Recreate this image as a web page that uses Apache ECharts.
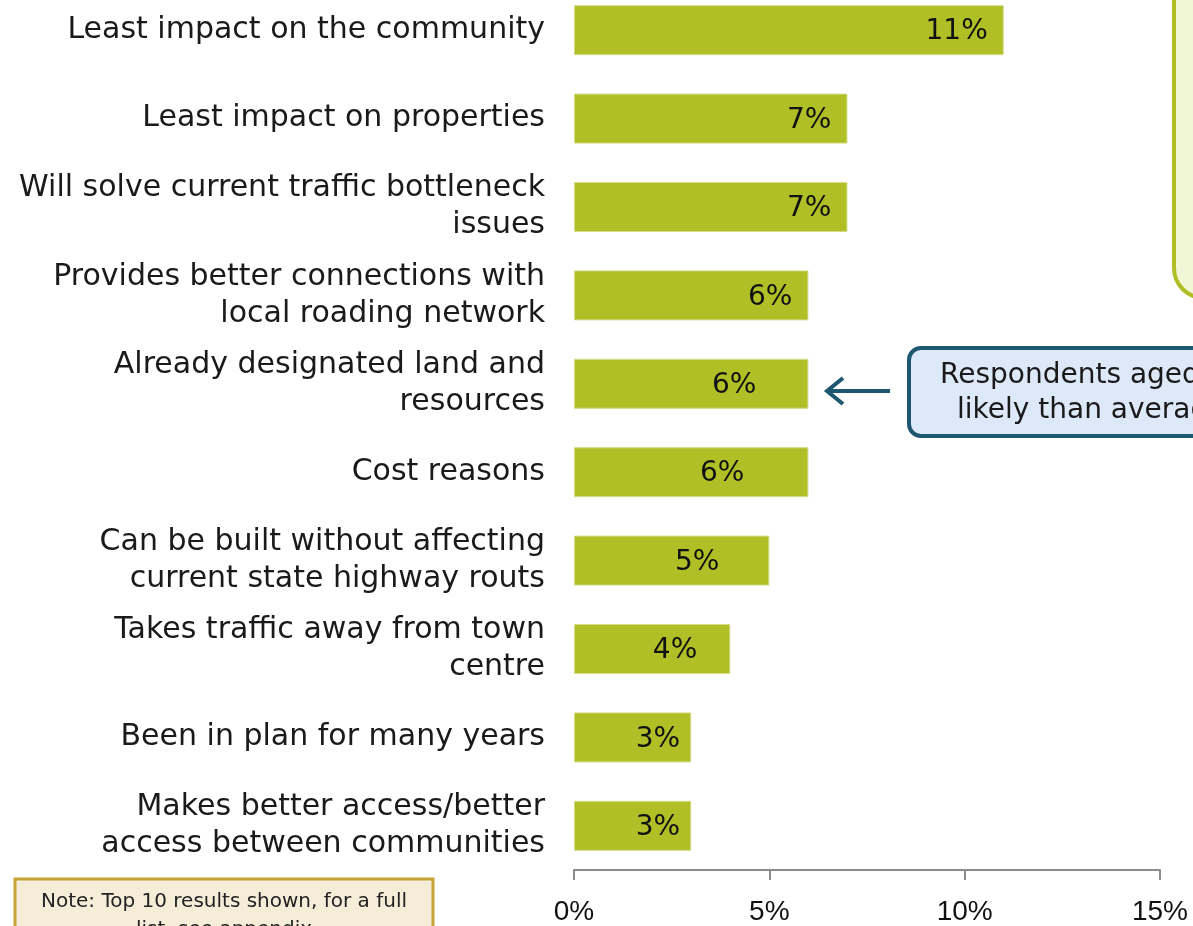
<!DOCTYPE html>
<html>
<head>
<meta charset="utf-8">
<script src="https://cdn.jsdelivr.net/npm/echarts@6/dist/echarts.min.js"></script>
<style>
  html, body { margin: 0; padding: 0; background: #fff; overflow: hidden; }
  /* first band starts above the page edge in the original, so the chart is shifted up */
  #chart { position: absolute; left: 0; top: -14px; width: 1193px; height: 940px; }
</style>
</head>
<body>
<div id="chart"></div>
<script>
  // reasons, top to bottom
  var categories = [
    'Least impact on the community',
    'Least impact on properties',
    'Will solve current traffic bottleneck\nissues',
    'Provides better connections with\nlocal roading network',
    'Already designated land and\nresources',
    'Cost reasons',
    'Can be built without affecting\ncurrent state highway routs',
    'Takes traffic away from town\ncentre',
    'Been in plan for many years',
    'Makes better access/better\naccess between communities'
  ]
  var percents = [11, 7, 7, 6, 6, 6, 5, 4, 3, 3]
  var axisTicks = [0, 5, 10, 15]

  // labels in the original were nudged by hand
  var labelNudge = [0, 0, 0, 0, -36, -48, -34, -17, 5, 5]

  var font = 'DejaVu Sans'
  var dy = 14 // page y -> chart y
  var chart = echarts.init(document.getElementById('chart'))

  chart.setOption({
    animation: false,
    grid: { left: 574, right: 33, top: 0, bottom: 56 },
    xAxis: {
      type: 'value',
      min: axisTicks[0],
      max: axisTicks[axisTicks.length - 1],
      interval: axisTicks[1] - axisTicks[0],
      splitLine: { show: false },
      axisLine: { show: true, lineStyle: { color: '#8c8c8c', width: 2 } },
      axisTick: { show: true, length: 10, lineStyle: { color: '#8c8c8c', width: 2 } },
      axisLabel: {
        formatter: '{value}%', color: '#111', fontSize: 28,
        fontFamily: 'Liberation Sans', margin: 28
      }
    },
    yAxis: {
      type: 'category',
      inverse: true,
      data: categories,
      axisLine: { show: false },
      axisTick: { show: false },
      axisLabel: {
        color: '#1a1a1a', fontSize: 30, fontFamily: font,
        margin: 29, lineHeight: 37, align: 'right'
      }
    },
    series: [{
      type: 'bar',
      barWidth: 50,
      data: percents.map(function (v, i) {
        return { value: v, label: { offset: [labelNudge[i], 2] } }
      }),
      itemStyle: { color: '#b1bf27', borderColor: '#d4dc8a', borderWidth: 1 },
      label: {
        show: true, position: 'insideRight', distance: 16,
        formatter: '{c}%', color: '#111', fontSize: 28, fontFamily: font
      }
    }],
    graphic: [
      // green callout top right (cut off)
      { type: 'rect', shape: { x: 1174, y: -40 + dy, width: 120, height: 338, r: 30 },
        style: { fill: '#f1f6d4', stroke: '#b1bf27', lineWidth: 4 } },
      // blue callout
      { type: 'rect', shape: { x: 909, y: 348 + dy, width: 320, height: 88, r: 12 },
        style: { fill: '#dde8f8', stroke: '#1d5870', lineWidth: 4 } },
      { type: 'text', left: 940, top: 362 + dy,
        style: { text: 'Respondents aged', fontSize: 28, fontFamily: font, fill: '#1a1a1a' } },
      { type: 'text', left: 957, top: 397 + dy,
        style: { text: 'likely than average', fontSize: 28, fontFamily: font, fill: '#1a1a1a' } },
      { type: 'line', shape: { x1: 890, y1: 391 + dy, x2: 828, y2: 391 + dy },
        style: { stroke: '#1d5870', lineWidth: 4 } },
      { type: 'polyline', shape: { points: [[843, 378 + dy], [827, 391 + dy], [843, 404 + dy]] },
        style: { stroke: '#1d5870', lineWidth: 4, fill: null } },
      // note box bottom left
      { type: 'rect', shape: { x: 15, y: 879 + dy, width: 418, height: 80 },
        style: { fill: '#f6edd9', stroke: '#c9a238', lineWidth: 3 } },
      { type: 'text', x: 224, y: 892 + dy,
        style: { text: 'Note: Top 10 results shown, for a full', fontSize: 20, fontFamily: font,
                 fill: '#222', align: 'center' } },
      { type: 'text', x: 224, y: 920 + dy,
        style: { text: 'list, see appendix', fontSize: 20, fontFamily: font,
                 fill: '#222', align: 'center' } }
    ]
  })
</script>
</body>
</html>
